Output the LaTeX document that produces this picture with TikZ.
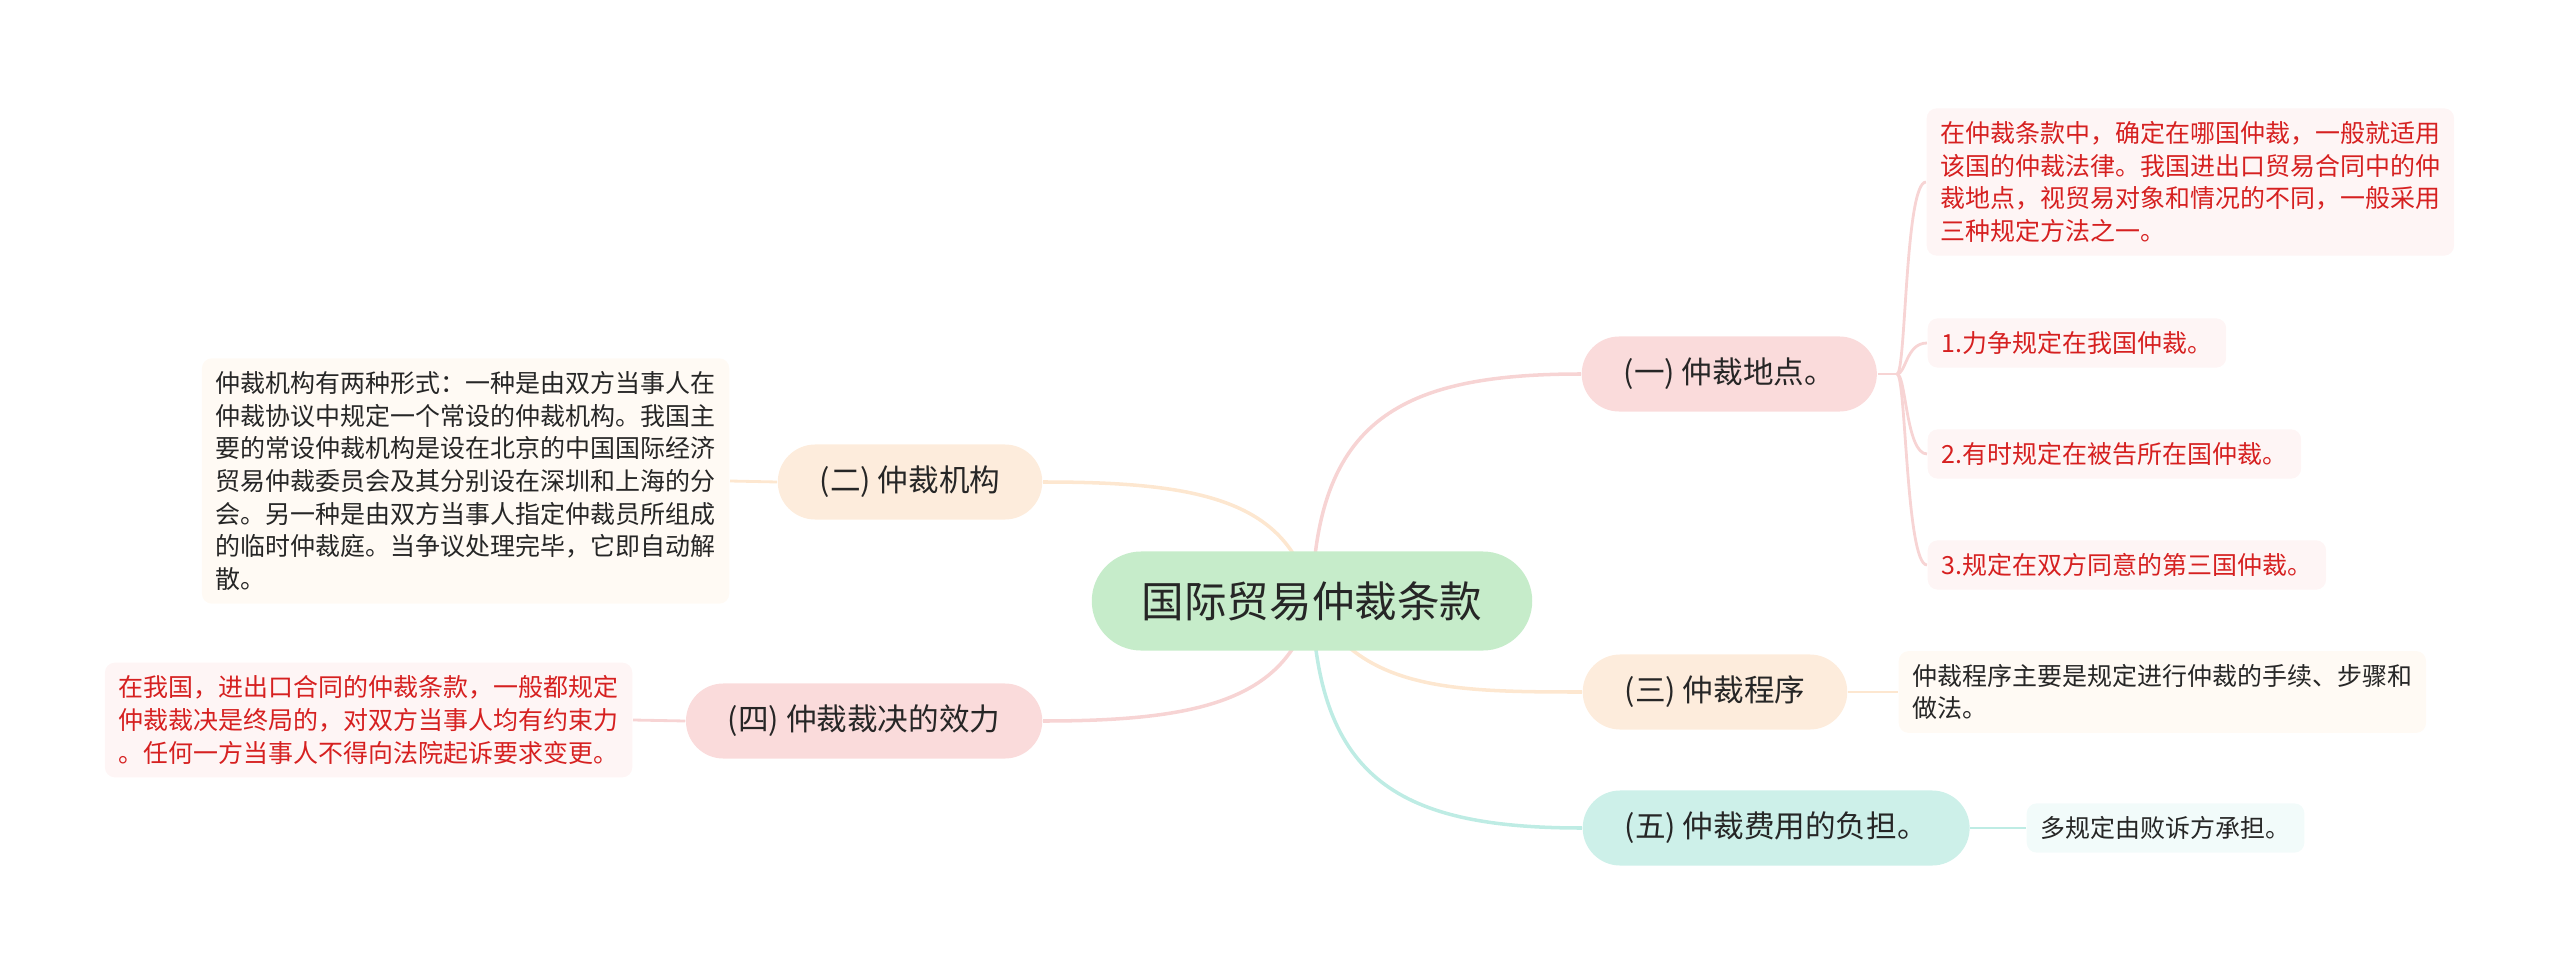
\documentclass[tikz,border=0pt]{standalone}
\usepackage{fontspec}
\setmainfont{Noto Sans CJK SC}
\usepackage{tikz}
\usetikzlibrary{backgrounds}

\definecolor{rootfill}{RGB}{198,236,202}
\definecolor{pinkfill}{RGB}{250,219,219}
\definecolor{peachfill}{RGB}{253,236,220}
\definecolor{tealfill}{RGB}{205,240,233}
\definecolor{pinkleaf}{RGB}{254,245,245}
\definecolor{peachleaf}{RGB}{255,250,244}
\definecolor{tealleaf}{RGB}{242,251,250}
\definecolor{pinkline}{RGB}{247,212,212}
\definecolor{peachline}{RGB}{253,231,208}
\definecolor{tealline}{RGB}{190,236,228}
\definecolor{redtext}{RGB}{214,32,32}
\definecolor{darktext}{RGB}{38,38,38}

\begin{document}
\begin{tikzpicture}[x=0.01cm,y=-0.01cm,
  rootnode/.style={fill=rootfill,text=darktext,rounded corners=0.495cm,
    minimum height=0.99cm,inner xsep=0.5cm,font=\fontsize{12.1}{14}\selectfont},
  topic/.style={text=darktext,rounded corners=0.375cm,minimum height=0.75cm,
    inner xsep=0.42cm,font=\fontsize{8.7}{10}\selectfont},
  leaf/.style={rounded corners=0.1cm,align=left,inner xsep=0.14cm,inner ysep=0.13cm,
    font=\fontsize{7.1}{9.3}\selectfont},
  link/.style={line width=1pt},
  sublink/.style={line width=0.8pt}]
\useasboundingbox (0,0) rectangle (2560,973);

% Root and main topics
\node[rootnode] (root) at (1312,601) {国际贸易仲裁条款};
\node[topic,fill=pinkfill,anchor=west] (place) at (1581,374) {(一) 仲裁地点。};
\node[topic,fill=peachfill,anchor=east] (body) at (1043,482) {(二) 仲裁机构};
\node[topic,fill=peachfill,anchor=west] (proc) at (1582,692) {(三) 仲裁程序};
\node[topic,fill=pinkfill,anchor=east] (award) at (1043,721) {(四) 仲裁裁决的效力};
\node[topic,fill=tealfill,anchor=west] (cost) at (1582,828) {(五) 仲裁费用的负担。};

% Detail boxes
\node[leaf,fill=pinkleaf,text=redtext,anchor=west] (placetext) at (1926,182)
  {在仲裁条款中，确定在哪国仲裁，一般就适用\\该国的仲裁法律。我国进出口贸易合同中的仲\\裁地点，视贸易对象和情况的不同，一般采用\\三种规定方法之一。};
\node[leaf,fill=pinkleaf,text=redtext,anchor=west] (placeA) at (1927,343) {1.力争规定在我国仲裁。};
\node[leaf,fill=pinkleaf,text=redtext,anchor=west] (placeB) at (1927,454) {2.有时规定在被告所在国仲裁。};
\node[leaf,fill=pinkleaf,text=redtext,anchor=west] (placeC) at (1927,565) {3.规定在双方同意的第三国仲裁。};
\node[leaf,fill=peachleaf,text=darktext,anchor=east] (bodytext) at (730,481)
  {仲裁机构有两种形式：一种是由双方当事人在\\仲裁协议中规定一个常设的仲裁机构。我国主\\要的常设仲裁机构是设在北京的中国国际经济\\贸易仲裁委员会及其分别设在深圳和上海的分\\会。另一种是由双方当事人指定仲裁员所组成\\的临时仲裁庭。当争议处理完毕，它即自动解\\散。};
\node[leaf,fill=peachleaf,text=darktext,anchor=west] (proctext) at (1898,692)
  {仲裁程序主要是规定进行仲裁的手续、步骤和\\做法。};
\node[leaf,fill=pinkleaf,text=redtext,anchor=east] (awardtext) at (633,720)
  {在我国，进出口合同的仲裁条款，一般都规定\\仲裁裁决是终局的，对双方当事人均有约束力\\。任何一方当事人不得向法院起诉要求变更。};
\node[leaf,fill=tealleaf,text=darktext,anchor=west] (costtext) at (2026,828) {多规定由败诉方承担。};

\coordinate (fork) at (1897,374);

\begin{pgfonlayer}{background}
% Branches from the root
\draw[link,pinkline] (root.center) .. controls (1316,420) and (1400,374) .. (place.west);
\draw[link,peachline] (root.center) .. controls (1290,500) and (1200,482) .. (body.east);
\draw[link,peachline] (root.center) .. controls (1360,690) and (1450,692) .. (proc.west);
\draw[link,pinkline] (root.center) .. controls (1290,700) and (1200,721) .. (award.east);
\draw[link,tealline] (root.center) .. controls (1318,780) and (1400,828) .. (cost.west);

% Detail links
\draw[sublink,pinkline] (place.east) -- (fork);
\foreach \leafname in {placetext,placeA,placeB,placeC}
  \draw[sublink,pinkline] (fork) .. controls (1906,374) and ([xshift=-0.21cm]\leafname.west) .. (\leafname.west);
\draw[sublink,peachline] (body.west) -- (bodytext.east);
\draw[sublink,peachline] (proc.east) -- (proctext.west);
\draw[sublink,pinkline] (award.west) -- (awardtext.east);
\draw[sublink,tealline] (cost.east) -- (costtext.west);
\end{pgfonlayer}
\end{tikzpicture}
\end{document}
